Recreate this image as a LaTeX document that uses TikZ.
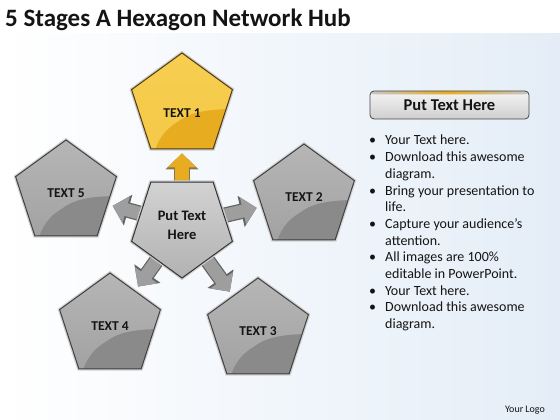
\documentclass[tikz,border=0pt]{standalone}
\usepackage{fontspec}
\setmainfont{Carlito}
\usetikzlibrary{shapes.geometric,arrows.meta,calc}
\definecolor{bgblue}{RGB}{228,237,247}
\definecolor{goldL}{RGB}{247,206,80}
\definecolor{goldD}{RGB}{232,172,32}
\definecolor{goldB}{RGB}{80,58,14}
\definecolor{grayL}{RGB}{182,182,182}
\definecolor{grayM}{RGB}{162,162,162}
\definecolor{grayD}{RGB}{138,138,138}
\definecolor{hubL}{RGB}{210,210,210}
\definecolor{hubD}{RGB}{178,178,178}
\definecolor{arrowF}{RGB}{158,158,158}
\definecolor{arrowO}{RGB}{100,100,100}
\definecolor{txt}{RGB}{20,20,20}
\newcommand\pp[2]{([shift={(#1pt,#2pt)}]path picture bounding box.south west)}
\newcommand\curlfill[1]{%
  \fill[#1] \pp{108}{40} .. controls \pp{66}{40} and \pp{56}{34} .. \pp{46}{27}
      .. controls \pp{33}{19} and \pp{27}{10} .. \pp{22}{-5} -- \pp{108}{-5} -- cycle;}
\newcommand\bul{\makebox[16pt][l]{\textbullet}}
\begin{document}
\begin{tikzpicture}[x=1pt,y=1pt,
  penta/.style={regular polygon, regular polygon sides=5, minimum size=106pt,
    inner sep=0pt, font=\bfseries\fontsize{13.5}{15}\selectfont, text=txt},
  graypenta/.style={penta, draw=black!75, line width=1pt,
    top color=grayL, bottom color=grayM,
    preaction={draw=gray!35, line width=3.5pt},
    path picture={\curlfill{grayD}}},
  goldpenta/.style={penta, draw=goldB, line width=1pt,
    top color=goldL, bottom color=goldL!85!goldD,
    preaction={draw=gray!40, line width=3.5pt},
    path picture={\curlfill{goldD}}},
  hubpenta/.style={penta, shape border rotate=180, draw=black!80, line width=1pt,
    top color=hubL, bottom color=hubD,
    preaction={draw=gray!40, line width=3.5pt},
    font=\bfseries\fontsize{14.5}{19}\selectfont, align=center},
  grayarrow/.style={draw=arrowF, line width=13pt,
    -{Triangle[width=27pt,length=14pt]}, shorten >=5pt,
    preaction={draw=arrowO, line width=15.5pt,
      -{Triangle[width=31pt,length=16pt]}, shorten >=5pt}},
  goldarrow/.style={draw=goldD, line width=14pt,
    -{Triangle[width=28pt,length=14pt]}, shorten >=4pt,
    preaction={draw=goldB!70, line width=16pt,
      -{Triangle[width=32pt,length=16pt]}, shorten >=4pt}},
  hdrbox/.style={rectangle, rounded corners=4pt, minimum width=159pt,
    minimum height=28pt, top color=gray!8, bottom color=gray!38,
    draw=gray!55!black, line width=0.8pt,
    font=\bfseries\fontsize{16.5}{19}\selectfont, text=txt,
    path picture={\shade[left color=gray!45, right color=gray!45, middle color=goldD]
      (path picture bounding box.north west) rectangle
      ([yshift=-3.5pt]path picture bounding box.north east);}}
]
\useasboundingbox (0,0) rectangle (560,420);
\fill[white] (0,0) rectangle (560,420);
\shade[left color=white, right color=bgblue] (0,0) rectangle (560,386);

\node[anchor=base west, inner sep=0pt, font=\bfseries\fontsize{25}{29}\selectfont, text=txt]
  (title) at (5,393) {5 Stages A Hexagon Network Hub};

% outer pentagons
\node[goldpenta] (t1) at (182,314) {\raisebox{-11.5pt}[0pt][0pt]{TEXT 1}};
\node[graypenta] (t2) at (304,223) {TEXT 2};
\node[graypenta] (t3) at (258,89) {TEXT 3};
\node[graypenta] (t4) at (110,94) {TEXT 4};
\node[graypenta] (t5) at (66,227) {TEXT 5};

% hub position (drawn after arrows)
\coordinate (hubc) at (182,195);
\draw[goldarrow] (hubc) -- (t1);
\draw[grayarrow] (hubc) -- (t2);
\draw[grayarrow] (hubc) -- (t3);
\draw[grayarrow] (hubc) -- (t4);
\draw[grayarrow] (hubc) -- (t5);
\node[hubpenta] (hub) at (hubc) {Put Text\\Here};

% right panel
\node[hdrbox] (hdr) at (449.5,315) {Put Text Here};
\node[anchor=north west, inner sep=0pt, align=left,
  font=\fontsize{14}{16.7}\selectfont, text=txt] (list) at (369,285) {%
\bul Your Text here.\\
\bul Download this awesome\\
\hspace*{16pt}diagram.\\
\bul Bring your presentation to\\
\hspace*{16pt}life.\\
\bul Capture your audience’s\\
\hspace*{16pt}attention.\\
\bul All images are 100\%\\
\hspace*{16pt}editable in PowerPoint.\\
\bul Your Text here.\\
\bul Download this awesome\\
\hspace*{16pt}diagram.};

\node[font=\fontsize{10}{12}\selectfont, text=txt] (logo) at (525,10) {Your Logo};
\end{tikzpicture}
\end{document}
